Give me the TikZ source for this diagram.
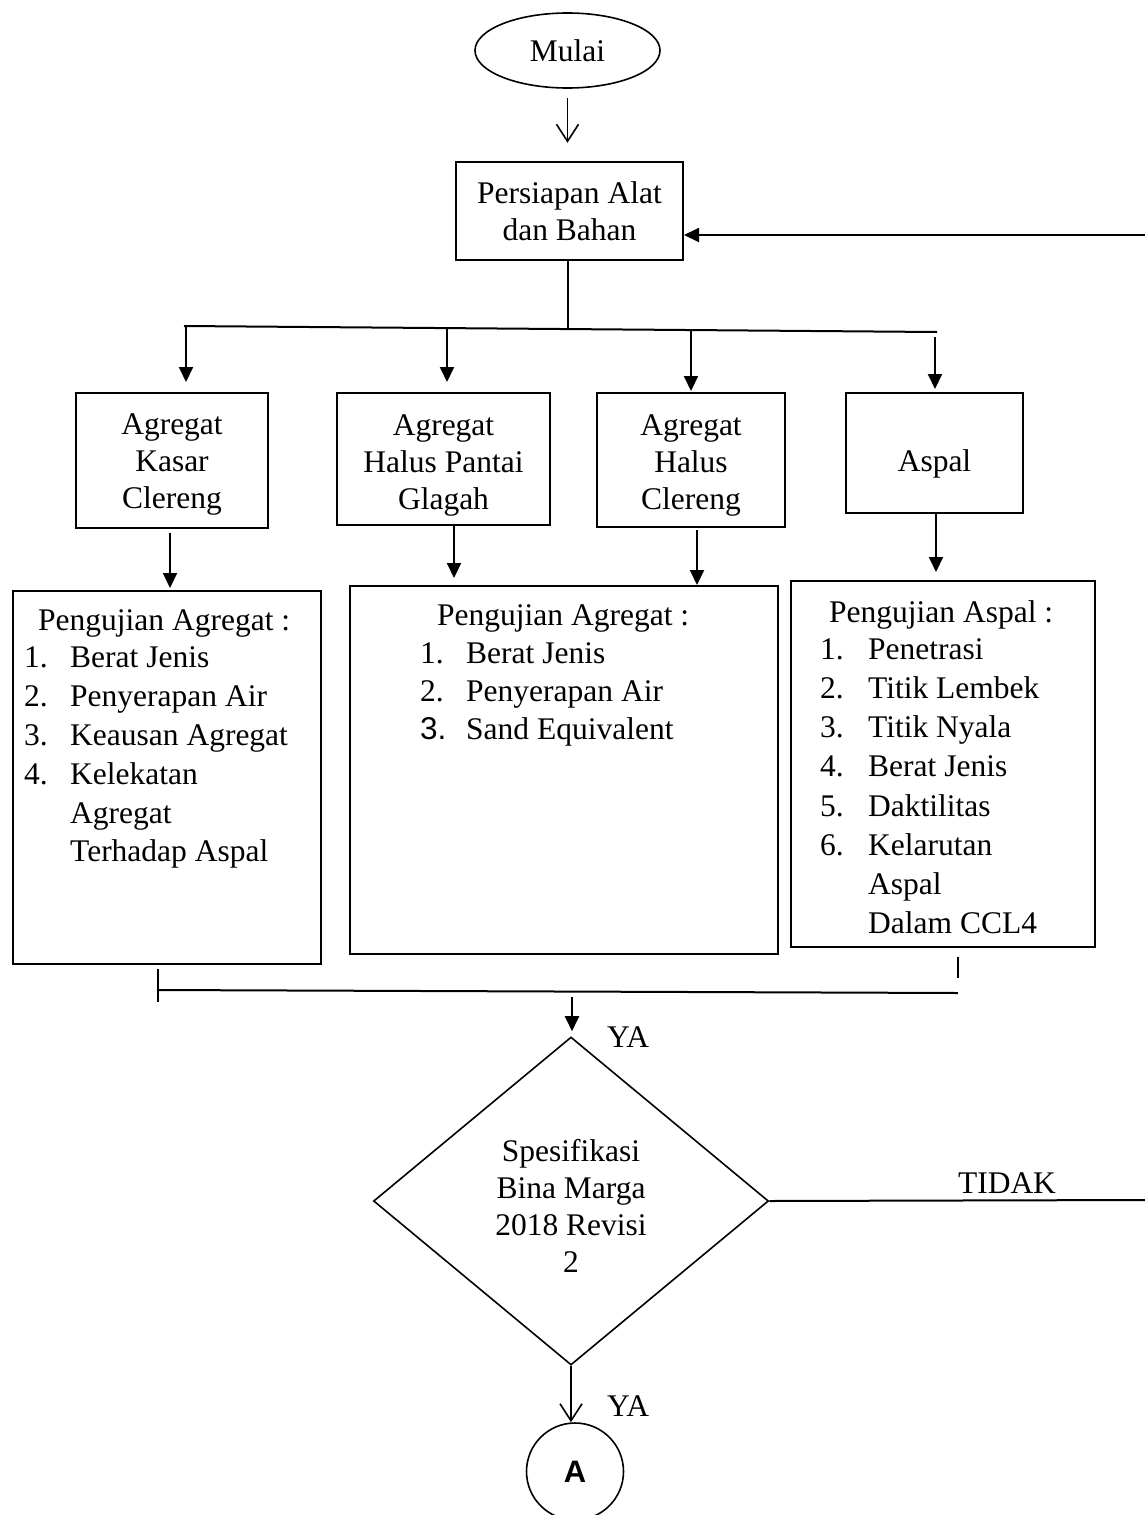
\documentclass[tikz,border=0pt]{standalone}
\usepackage{fontspec}
\setmainfont{Liberation Serif}
\setsansfont{Liberation Sans}
\usetikzlibrary{arrows.meta, shapes.geometric}

\begin{document}
\begin{tikzpicture}[x=1pt, y=-1pt, font=\fontsize{31.5}{37}\selectfont,
    kotak/.style={draw, line width=2pt, inner sep=0pt},
    teks/.style={inner sep=0pt},
    garis/.style={line width=2pt},
    panah/.style={line width=2pt, -{Triangle[length=15pt, width=14pt]}},
    panahbuka/.style={line width=1.6pt, -{Straight Barb[length=17pt, width=22pt]}}]
\useasboundingbox (0,0) rectangle (1145,1515);

% mulai dan persiapan
\node[kotak, ellipse, line width=1.6pt, minimum width=185pt, minimum height=75pt] (mulai) at (567.5,50.5) {Mulai};
\node[kotak, minimum width=227pt, minimum height=98pt, align=center] (persiapan) at (569.5,211) {Persiapan Alat\\dan Bahan};

% bahan
\node[kotak, minimum width=192pt, minimum height=135pt] (kasar) at (172,460.5) {};
\node[kotak, minimum width=213pt, minimum height=132pt] (pantai) at (443.5,459) {};
\node[kotak, minimum width=188pt, minimum height=134pt] (halus) at (691,460) {};
\node[kotak, minimum width=177pt, minimum height=120pt] (aspal) at (934.5,453) {};
\node[teks, align=center] (kasar-teks) at (172,464.5) {Agregat\\Kasar\\Clereng};
\node[teks, align=center] (pantai-teks) at (443.5,465) {Agregat\\Halus Pantai\\Glagah};
\node[teks, align=center] (halus-teks) at (691,465) {Agregat\\Halus\\Clereng};
\node[teks] (aspal-teks) at (934.5,464) {Aspal};

% pengujian
\node[kotak, anchor=north west, minimum width=308pt, minimum height=373pt] (ujiA) at (12,590) {};
\node[kotak, anchor=north west, minimum width=428pt, minimum height=368pt] (ujiB) at (349,585) {};
\node[kotak, anchor=north west, minimum width=304pt, minimum height=366pt] (ujiC) at (790,580) {};

\node[teks, anchor=base west] (ujiA-judul) at (38,630) {Pengujian Agregat :};
\foreach \no/\isi [count=\i] in {1./Berat Jenis, 2./Penyerapan Air, 3./Keausan Agregat, 4./Kelekatan, {}/Agregat, {}/Terhadap Aspal}
  \node[teks, anchor=base west] (ujiA-\i) at (24,{629+38.8*\i}) {\makebox[46pt][l]{\no}\isi};

\node[teks, anchor=base west] (ujiB-judul) at (437,625) {Pengujian Agregat :};
\foreach \no/\isi [count=\i] in {1./Berat Jenis, 2./Penyerapan Air, {\sffamily 3.}/Sand Equivalent}
  \node[teks, anchor=base west] (ujiB-\i) at (420,{625+38*\i}) {\makebox[46pt][l]{\no}\isi};

\node[teks, anchor=base west] (ujiC-judul) at (829,622) {Pengujian Aspal :};
\foreach \no/\isi [count=\i] in {1./Penetrasi, 2./Titik Lembek, 3./Titik Nyala, 4./Berat Jenis, 5./Daktilitas, 6./Kelarutan, {}/Aspal, {}/Dalam CCL4}
  \node[teks, anchor=base west] (ujiC-\i) at (820,{620+39.2*\i}) {\makebox[48pt][l]{\no}\isi};

% keputusan dan penghubung
\node[kotak, diamond, line width=1.6pt, minimum width=395pt, minimum height=328pt] (spek) at (571,1201) {};
\node[teks, align=center] (spek-teks) at (571,1206) {Spesifikasi\\Bina Marga\\2018 Revisi\\2};
\node[kotak, circle, line width=1.6pt, minimum size=97pt, font=\fontsize{31}{34}\selectfont\sffamily\bfseries] (lingkar) at (575,1471.5) {A};

\node[teks] (ya1) at (628,1037) {YA};
\node[teks] (ya2) at (628,1406) {YA};
\node[teks] (tidak) at (1007,1183.5) {TIDAK};

% garis
\draw[panahbuka] ([yshift=-9pt]mulai.south) -- ++(0,45);

\coordinate (balik) at (1145,235);
\draw[panah] (balik) -- (balik -| persiapan.east);

\coordinate (cabang-l) at (184,326);
\coordinate (cabang-r) at (937,332);
\draw[garis] ([xshift=-2pt]persiapan.south) -- ++(0,69);
\draw[garis] (cabang-l) -- (cabang-r);

\foreach \x/\y/\b/\s in {186/326.5/kasar/10, 447/328/pantai/10, 691/330/halus/1, 935/337/aspal/3} {
  \coordinate (tap-\b) at (\x,\y);
  \draw[panah, shorten >=\s pt] (tap-\b) -- (tap-\b |- \b.north);
}

\foreach \a/\b/\dx/\g/\s in {kasar/ujiA/-2/4/2, pantai/ujiB/10.5/0/7, halus/ujiB/6/2/0, aspal/ujiC/1.5/0/8}
  \draw[panah, shorten <=\g pt, shorten >=\s pt] ([xshift=\dx pt]\a.south) -- ([xshift=\dx pt]\a.south |- \b.north);

\coordinate (kumpul-l) at (157,990);
\coordinate (kumpul-r) at (958,993);
\draw[garis] ([xshift=-9pt, yshift=-4pt]ujiA.south) -- ++(0,33);
\draw[garis] ([xshift=15pt, yshift=-9pt]ujiC.south) -- ++(0,21);
\draw[garis] (kumpul-l) -- (kumpul-r);

\coordinate (masuk) at (572,997);
\draw[panah, shorten >=5pt] (masuk) -- (masuk |- spek.north);

\coordinate (tidak-r) at (1145,1200);
\draw[garis] (spek.east) -- (tidak-r);

\draw[panahbuka] (spek.south) -- (spek.south |- lingkar.north);
\end{tikzpicture}
\end{document}
